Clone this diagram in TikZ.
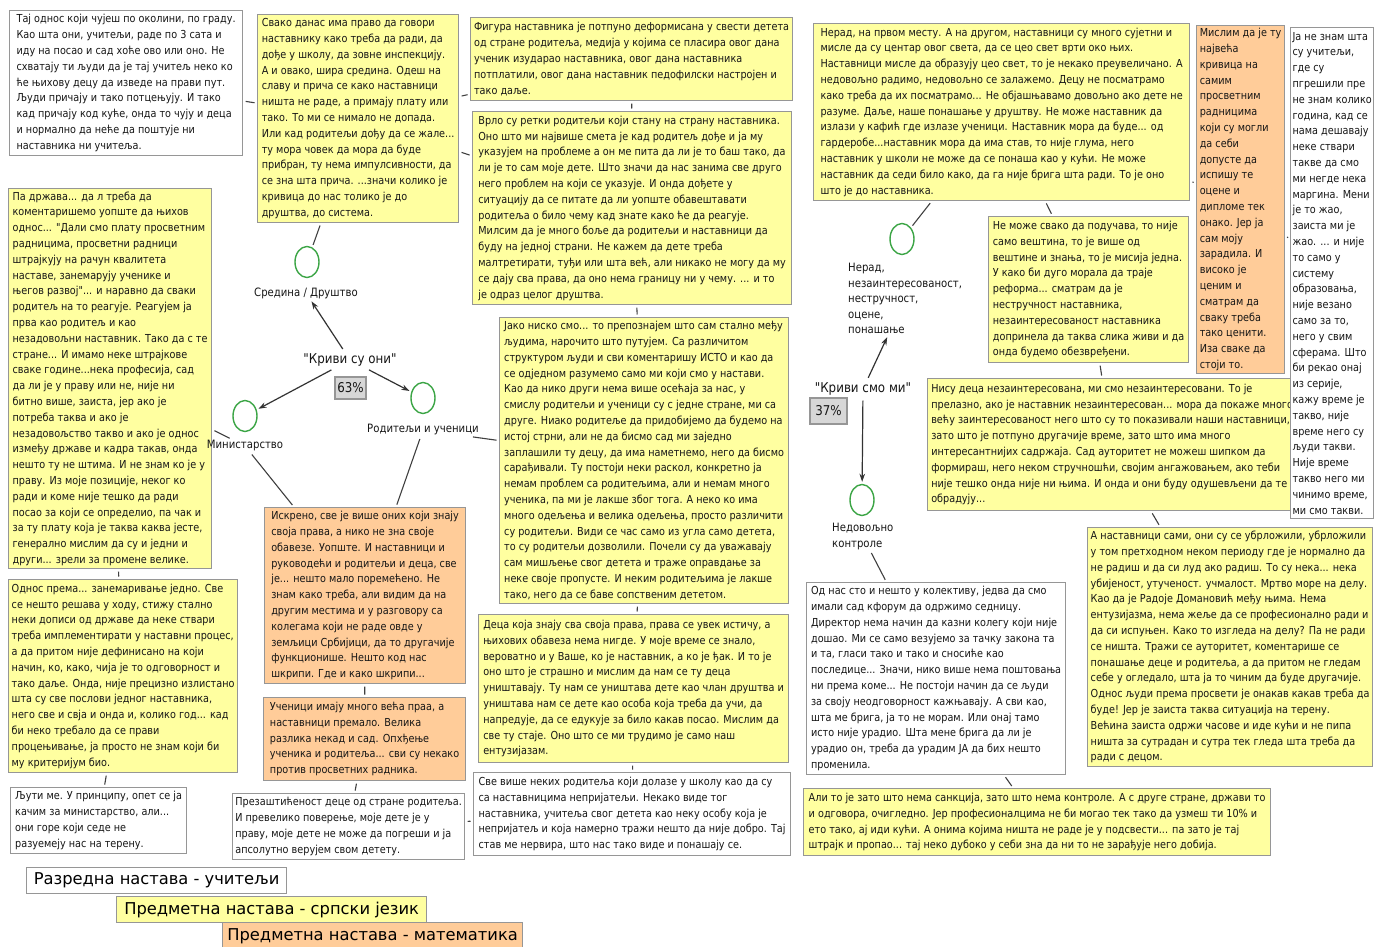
\documentclass[tikz,border=0pt]{standalone}
\usepackage{fontspec}
\usetikzlibrary{shapes.geometric,arrows.meta}
\newfontfamily\mapfont{DejaVu Sans}[FakeStretch=0.88]
\newfontfamily\legendfont{DejaVu Sans}
\definecolor{noteyellow}{RGB}{255,255,160}
\definecolor{noteorange}{RGB}{255,204,153}
\definecolor{noteedge}{RGB}{150,150,150}
\definecolor{ringgreen}{RGB}{60,165,70}
\definecolor{inktext}{RGB}{22,22,22}
\definecolor{pctgray}{RGB}{215,215,215}
\tikzset{
  note/.style={draw=noteedge, line width=1.2pt, anchor=north west, align=left,
    inner sep=2pt, text=inktext, font=\mapfont\fontsize{11}{15.8}\selectfont},
  wnote/.style={note, fill=white},
  ynote/.style={note, fill=noteyellow},
  onote/.style={note, fill=noteorange},
  legend/.style={draw=noteedge, line width=1.2pt, anchor=north west, inner xsep=4pt,
    text=black, font=\legendfont\fontsize{16.3}{18}\selectfont},
  ring/.style={ellipse, draw=ringgreen, line width=1.4pt, fill=white,
    minimum width=24pt, minimum height=31pt, inner sep=0pt},
  tag/.style={inner sep=1pt, align=left, text=inktext, font=\mapfont\fontsize{11.5}{15.6}\selectfont},
  claim/.style={inner sep=2pt, text=inktext, font=\mapfont\fontsize{13.5}{16}\selectfont},
  pct/.style={draw=noteedge, fill=pctgray, line width=1.1pt, inner sep=0pt,
    text=inktext, font=\mapfont\fontsize{13.5}{16}\selectfont},
  link/.style={draw=black!75, line width=1.1pt, shorten <=2.5pt, shorten >=2.5pt},
  arrowlink/.style={draw=black!80, line width=1.2pt, shorten <=3pt, shorten >=2pt,
    -{Stealth[length=8pt,width=5.5pt]}},
}
\begin{document}
\begin{tikzpicture}[x=1pt, y=-1pt]
\fill[white] (0,0) rectangle (1374,947);
\useasboundingbox (0,0) rectangle (1374,947);

% ---- left column of quotes ----
\node[wnote, minimum width=233pt, minimum height=145pt] (A) at (9,10) {%
Тај однос који чујеш по околини, по граду.\\
Као шта они, учитељи, раде по 3 сата и\\
иду на посао и сад хоће ово или оно. Не\\
схватају ти људи да је тај учитељ неко ко\\
ће њихову децу да изведе на прави пут.\\
Људи причају и тако потцењују. И тако\\
кад причају код куће, онда то чују и деца\\
и нормално да неће да поштује ни\\
наставника ни учитеља.};

\node[ynote, minimum width=201pt, minimum height=208pt] (B) at (257,14) {%
Свако данас има право да говори\\
наставнику како треба да ради, да\\
дође у школу, да зовне инспекцију.\\
А и овако, шира средина. Одеш на\\
славу и прича се како наставници\\
ништа не раде, а примају плату или\\
тако. То ми се нимало не допада.\\
Или кад родитељи дођу да се жале...\\
ту мора човек да мора да буде\\
прибран, ту нема импулсивности, да\\
се зна шта прича. ...значи колико је\\
кривица до нас толико је до\\
друштва, до система.};

\node[ynote, minimum width=322pt, minimum height=83pt] (C) at (470,17) {%
Фигура  наставника је потпуно деформисана у свести детета\\
од стране родитеља, медија у којима се пласира овог дана\\
ученик изударао наставника, овог дана наставника\\
потплатили, овог дана наставник педофилски настројен и\\
тако даље.};

\node[ynote, minimum width=319pt, minimum height=193pt] (D) at (472,111) {%
Врло су ретки родитељи који стану на страну наставника.\\
Оно што ми највише смета је кад родитељ дође и ја му\\
указујем на проблеме а он ме пита да ли је то баш тако, да\\
ли је то сам моје дете. Што значи да нас занима све друго\\
него проблем на који се указује. И онда дођете у\\
ситуацију да се питате да ли уопште обавештавати\\
родитеља о било чему кад знате како ће да реагује.\\
Милсим да је много боље да родитељи и наставници да\\
буду на једној страни. Не кажем да дете треба\\
малтретирати,  туђи или шта већ, али никако не могу да му\\
се дају сва права, да оно нема границу ни у чему. ... и то\\
је одраз целог друштва.};

\node[ynote, minimum width=203pt, minimum height=380pt] (E) at (8,188) {%
Па држава... да л треба да\\
коментаришемо уопште да њихов\\
однос... "Дали смо плату просветним\\
радницима, просветни радници\\
штрајкују на рачун квалитета\\
наставе,  занемарују ученике и\\
његов развој"... и наравно да сваки\\
родитељ на то реагује. Реагујем ја\\
прва као родитељ и као\\
незадовољни наставник. Тако да с те\\
стране... И имамо неке штрајкове\\
сваке  године...нека  професија, сад\\
да ли је у праву или не, није ни\\
битно више, заиста, јер ако је\\
потреба таква и ако је\\
незадовољство такво и ако је однос\\
између државе и кадра такав, онда\\
нешто ту не штима. И не знам ко је у\\
праву. Из моје позиције, неког ко\\
ради и коме није тешко да ради\\
посао за који се определио, па чак и\\
за ту плату која је таква каква јесте,\\
генерално мислим да су и једни и\\
други... зрели за промене велике.};

\node[ynote, minimum width=229pt, minimum height=193pt] (F) at (8,579) {%
Однос према... занемаривање једно. Све\\
се нешто решава у ходу, стижу стално\\
неки дописи од државе да неке ствари\\
треба имплементирати у наставни процес,\\
а да притом није дефинисано на који\\
начин, ко, како, чија је то одговорност и\\
тако даље. Онда, није прецизно излистано\\
шта су све послови једног наставника,\\
него све и свја и онда и, колико год... кад\\
би неко требало да се прави\\
процењивање, ја просто не знам који би\\
му критеријум био.};

\node[wnote, minimum width=176pt, minimum height=66pt] (G) at (10,787) {%
Љути ме. У принципу, опет се ја\\
качим за министарство, али...\\
они горе који седе не\\
разуемеју нас на терену.};

% ---- middle column ----
\node[onote, minimum width=201pt, minimum height=176pt] (H) at (264,507) {%
Искрено, све је више оних који знају\\
своја права, а нико не зна своје\\
обавезе. Уопште. И наставници и\\
руководећи и родитељи и деца, све\\
је... нешто мало поремећено. Не\\
знам како треба, али видим да на\\
другим местима и у разговору са\\
колегама који не раде овде у\\
земљици Србијици, да то другачије\\
функционише. Нешто код нас\\
шкрипи. Где и како шкрипи...};

\node[onote, minimum width=202pt, minimum height=83pt] (I) at (263,697) {%
Ученици имају много већа праа, а\\
наставници премало. Велика\\
разлика некад и сад. Опхђење\\
ученика и родитеља... сви су некако\\
против просветних радника.};

\node[wnote, minimum width=232pt, minimum height=66pt] (J) at (232,793) {%
Презаштићеност деце од стране родитеља.\\
И превелико поверење, моје дете је у\\
праву, моје дете не може да погреши и ја\\
апсолутно верујем свом детету.};

\node[ynote, minimum width=289pt, minimum height=286pt] (K) at (499,317) {%
Јако ниско смо... то препознајем што сам стално међу\\
људима, нарочито што путујем. Са различитом\\
структуром људи и сви коментаришу ИСТО и као да\\
се одједном разумемо само ми који смо у настави.\\
Као да нико други нема више осећаја за нас, у\\
смислу  родитељи и ученици су с једне стране, ми са\\
друге. Ниако родитеље да придобијемо да будемо на\\
истој стрни, али не да бисмо сад ми заједно\\
заплашили ту децу, да има наметнемо, него да бисмо\\
сарађивали. Ту постоји неки раскол, конкретно ја\\
немам проблем са родитељима, али и немам много\\
ученика, па ми је лакше због тога. А неко ко има\\
много одељења и велика одељења, просто различити\\
су родитељи. Види се час само из угла само детета,\\
то су родитељи дозволили. Почели су да уважавају\\
сам мишљење свог детета и траже оправдање за\\
неке своје пропусте. И неким родитељима је лакше\\
тако, него да се баве сопственим дететом.};

\node[ynote, minimum width=310pt, minimum height=148pt] (L) at (478,614) {%
Деца која знају сва своја права, права се увек истичу, а\\
њихових обавеза нема нигде. У моје време се знало,\\
вероватно и у Ваше, ко је наставник, а ко је ђак.  И то је\\
оно што је страшно и мислим да нам се ту деца\\
уништавају. Ту нам се уништава дете као члан друштва и\\
уништава нам се дете као особа која треба да учи, да\\
напредује, да се едукује за било какав посао. Мислим да\\
све ту стаје. Оно што се ми трудимо је само наш\\
ентузијазам.};

\node[wnote, minimum width=317pt, minimum height=83pt] (M) at (473,772) {%
Све више неких родитеља који долазе у  школу као да су\\
са наставницима непријатељи. Некако виде тог\\
наставника,  учитеља свог детета као неку особу која је\\
непријатељ и која намерно тражи нешто да није добро. Тај\\
став ме нервира, што нас тако виде и понашају се.};

% ---- right side ----
\node[ynote, minimum width=376pt, minimum height=177pt] (N) at (813,23) {%
Нерад, на првом месту. А на другом, наставници су много сујетни и\\
мисле да су центар овог света, да се цео свет врти око њих.\\
Наставници мисле да образују цео свет, то је некако преувеличано. А\\
недовољно радимо, недовољно се залажемо. Децу не посматрамо\\
како треба да их посматрамо... Не објашњавамо довољно ако дете не\\
разуме. Даље, наше понашање у друштву. Не може наставник да\\
излази у кафић где излазе ученици. Наставник мора да буде... од\\
гардеробе...наставник мора да има став, то није глума, него\\
наставник у школи не може да се понаша као у кући. Не може\\
наставник да седи било како, да га није брига шта ради. То је оно\\
што је до наставника.};

\node[ynote, minimum width=200pt, minimum height=146pt] (O) at (988,216) {%
Не може свако да подучава, то није\\
само вештина, то је више од\\
вештине и знања, то је мисија једна.\\
У како би дуго морала да траје\\
реформа... сматрам да је\\
нестручност наставника,\\
незаинтересованост наставника\\
допринела да таква слика живи и да\\
онда будемо обезвређени.};

\node[onote, minimum width=88pt, minimum height=348pt] (P) at (1196,25) {%
Мислим да је ту\\
највећа\\
кривица на\\
самим\\
просветним\\
радницима\\
који су могли\\
да себи\\
допусте да\\
испишу те\\
оцене и\\
дипломе тек\\
онако. Јер ја\\
сам моју\\
зарадила. И\\
високо је\\
ценим и\\
сматрам да\\
сваку треба\\
тако ценити.\\
Иза сваке да\\
стоји то.};

\node[ynote, minimum width=369pt, minimum height=132pt] (R) at (927,378) {%
Нису деца незаинтересована, ми смо незаинтересовани. То је\\
прелазно,  ако је наставник незаинтересован... мора да покаже много\\
већу заинтересованост него што су то показивали наши наставници,\\
зато што је потпуно другачије време, зато што има много\\
интересантнијих садржаја. Сад ауторитет не можеш шипком да\\
формираш, него неком стручношћи, својим ангажовањем, ако теби\\
није тешко онда није ни њима. И онда и они буду одушевљени да те\\
обрадују...};

\node[wnote, minimum width=83pt, minimum height=491pt] (Q) at (1290,27) {%
Ја не знам шта\\
су учитељи,\\
где су\\
пгрешили пре\\
не знам колико\\
година, кад се\\
нама дешавају\\
неке ствари\\
такве да смо\\
ми негде нека\\
маргина. Мени\\
је то жао,\\
заиста ми је\\
жао. ... и није\\
то само у\\
систему\\
образовања,\\
није везано\\
само за то,\\
него у свим\\
сферама. Што\\
би рекао онај\\
из серије,\\
кажу време је\\
такво, није\\
време него су\\
људи такви.\\
Није време\\
такво него ми\\
чинимо време,\\
ми смо такви.};

\node[ynote, minimum width=285pt, minimum height=239pt] (S) at (1087,527) {%
А наставници сами, они су се убрложили, убрложили\\
у том претходном неком периоду где је нормално да\\
не радиш и да си луд ако радиш. То су нека... нека\\
убијеност, утученост. учмалост. Мртво море на делу.\\
Као да је Радоје Домановић међу њима. Нема\\
ентузијазма, нема жеље да се професионално ради и\\
да си испуњен. Како то изгледа на делу? Па не ради\\
се ништа. Тражи се ауторитет, коментарише се\\
понашање деце и родитеља, а да притом не гледам\\
себе у огледало, шта ја то чиним да буде другачије.\\
Однос људи према просвети је онакав какав треба да\\
буде! Јер је заиста таква ситуација на терену.\\
Већина заиста одржи часове и иде кући и не пипа\\
ништа за сутрадан и сутра тек гледа шта треба да\\
ради с децом.};

\node[wnote, minimum width=259pt, minimum height=192pt] (T) at (806,582) {%
Од нас сто и нешто у колективу, једва да смо\\
имали сад кфорум да одржимо седницу.\\
Директор нема начин да казни колегу који није\\
дошао. Ми се само везујемо за тачку закона та\\
и та, гласи тако и тако и сносиће као\\
последице... Значи, нико више нема поштовања\\
ни према коме... Не постоји начин да се људи\\
за своју неодговорност кажњавају. А сви као,\\
шта ме брига, ја то не морам. Или онај тамо\\
исто није урадио. Шта мене брига да ли је\\
урадио он, треба да урадим ЈА да бих нешто\\
променила.};

\node[ynote, minimum width=467pt, minimum height=67pt] (U) at (803,788) {%
Али то је зато што нема санкција, зато што нема контроле. А с друге стране, држави то\\
и одговора, очигледно. Јер професионалцима не би могао тек тако да узмеш ти 10\% и\\
ето тако, ај иди кући. А онима којима ништа не раде је у подсвести... па зато је тај\\
штрајк и пропао... тај неко дубоко у себи зна да ни то не зарађује него добија.};

% ---- concepts ----
\node[ring] (cSred) at (307,262) {};
\node[tag] (lSred) at (306,293) {Средина / Друштво};
\node[claim] (they) at (350,360) {"Криви су они"};
\node[pct, minimum width=31pt, minimum height=22pt] (p63) at (350.5,388) {63\%};
\node[ring] (cMin) at (245,416) {};
\node[tag] (lMin) at (245,446) {Министарство};
\node[ring] (cRod) at (423,398) {};
\node[tag] (lRod) at (423,430) {Родитељи и ученици};

\node[ring] (cNerad) at (902,239) {};
\node[tag, anchor=north west] (lNerad) at (847,262) {Нерад,\\незаинтересованост,\\нестручност,\\оцене,\\понашање};
\node[claim] (we) at (863,389) {"Криви смо ми"};
\node[pct, minimum width=37pt, minimum height=26pt] (p37) at (828.5,411) {37\%};
\node[ring] (cNed) at (862,500) {};
\node[tag, anchor=north west] (lNed) at (831,522) {Недовољно\\контроле};

% ---- legend ----
\node[legend, fill=white, minimum width=260pt, minimum height=26pt] (leg1) at (26,867) {Разредна настава - учитељи};
\node[legend, fill=noteyellow, minimum width=310pt, minimum height=26pt] (leg2) at (116,896) {Предметна настава - српски језик};
\node[legend, fill=noteorange, minimum width=300pt, minimum height=28pt] (leg3) at (222,922) {Предметна настава - математика};

% ---- connectors ----
\draw[link] (A) -- (B);
\draw[link] (B) -- (C);
\draw[link] (B) -- (D);
\draw[link] (B) -- (cSred);
\draw[link] (C) -- (D);
\draw[link] (D) -- (K);
\draw[link] (K) -- (L);
\draw[link] (L) -- (M);
\draw[link] (M) -- (J);
\draw[link] (H) -- (I);
\draw[link] (I) -- (J);
\draw[link] (E) -- (F);
\draw[link] (F) -- (G);
\draw[link] (lMin) -- (E);
\draw[link] (lMin) -- (H);
\draw[link] (lRod) -- (K);
\draw[link] (lRod) -- (H);
\draw[link] (cNerad) -- (N);
\draw[link] (N) -- (O);
\draw[link] (N) -- (P);
\draw[link] (P) -- (Q);
\draw[link] (O) -- (R);
\draw[link] (R) -- (S);
\draw[link] (lNed) -- (T);
\draw[link] (T) -- (U);

\draw[arrowlink] (they) -- (lSred);
\draw[arrowlink] (they) -- (cMin);
\draw[arrowlink] (they) -- (cRod);
\draw[arrowlink] (we) -- (lNerad);
\draw[arrowlink] (we) -- (cNed);
\end{tikzpicture}
\end{document}
